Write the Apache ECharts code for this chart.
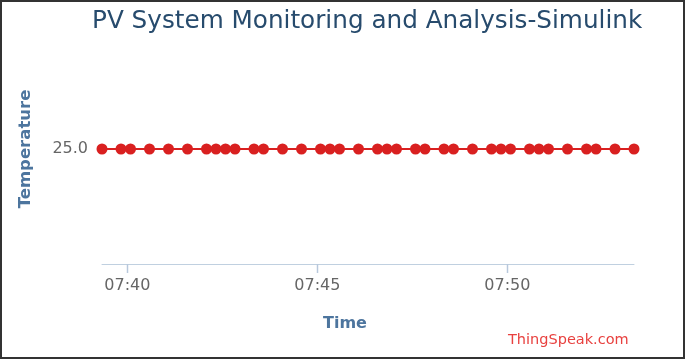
<!DOCTYPE html>
<html><head><meta charset="utf-8">
<script src="https://cdn.jsdelivr.net/npm/echarts@6/dist/echarts.min.js"></script>
<style>html,body{margin:0;padding:0;background:#fff}#c{width:685px;height:359px}</style>
</head><body><div id="c"></div>
<script>
const titleText = 'PV System Monitoring and Analysis-Simulink';
const yName = 'Temperature';
const xName = 'Time';
const credit = 'ThingSpeak.com';
const times = ['07:39:20','07:39:50','07:40:05','07:40:35','07:41:05','07:41:35','07:42:05','07:42:20','07:42:35','07:42:50','07:43:20','07:43:35','07:44:05','07:44:35','07:45:05','07:45:20','07:45:35','07:46:05','07:46:35','07:46:50','07:47:05','07:47:35','07:47:50','07:48:20','07:48:35','07:49:05','07:49:35','07:49:50','07:50:05','07:50:35','07:50:50','07:51:05','07:51:35','07:52:05','07:52:20','07:52:50','07:53:20'];
const temps = [25,25,25,25,25,25,25,25,25,25,25,25,25,25,25,25,25,25,25,25,25,25,25,25,25,25,25,25,25,25,25,25,25,25,25,25,25];
const xTicks = ['07:40:00','07:45:00','07:50:00'];
const yTicks = [25];
const yRange = [24, 26];

function toMs(s){const p=s.split(':').map(Number);return Date.UTC(2024,0,1,p[0],p[1],p[2]);}
function fmt(ms){const d=new Date(ms);return String(d.getUTCHours()).padStart(2,'0')+':'+String(d.getUTCMinutes()).padStart(2,'0');}
const data = times.map((t,i)=>[toMs(t),temps[i]]);
const xTickMs = xTicks.map(toMs);

const chart = echarts.init(document.getElementById('c'));
chart.setOption({
  animation:false,
  backgroundColor:'#fff',
  title:{text:titleText,left:87,top:4,textStyle:{fontFamily:'DejaVu Sans',fontSize:24.7,fontWeight:'normal',color:'#274b6d'}},
  grid:{left:102,right:51,top:34,bottom:95,containLabel:false},
  xAxis:{type:'value',min:'dataMin',max:'dataMax',
    axisLine:{lineStyle:{color:'#C0D0E0',width:1}},
    axisTick:{show:false},
    axisLabel:{customValues:xTickMs,formatter:v=>fmt(v),color:'#666',fontSize:16,fontFamily:'DejaVu Sans',margin:14},
    splitLine:{show:false}},
  yAxis:{type:'value',min:yRange[0],max:yRange[1],interval:1,
    name:yName,nameLocation:'middle',nameGap:68,
    nameTextStyle:{color:'#4d759e',fontSize:16.5,fontWeight:'bold',fontFamily:'DejaVu Sans'},
    axisLine:{show:false},axisTick:{show:false},splitLine:{show:false},
    axisLabel:{color:'#666',fontSize:16,fontFamily:'DejaVu Sans',margin:14,
      formatter:v=>yTicks.includes(v)?v.toFixed(1):''}},
  graphic:[
    {type:'rect',shape:{x:1,y:1,width:683,height:357},style:{fill:'none',stroke:'#333',lineWidth:2},z:100},
    {type:'text',left:323,top:316,style:{text:xName,fill:'#4d759e',font:'bold 16px DejaVu Sans'}},
    {type:'text',left:508,top:333,style:{text:credit,fill:'#e8413f',font:'14.5px DejaVu Sans'}}
  ],
  series:[
    {type:'custom',silent:true,clip:false,z:1,
      data:xTickMs.map(v=>[v,yRange[0]]),
      encode:{x:0,y:1},
      renderItem:(params,api)=>{const p=api.coord([api.value(0),api.value(1)]);const x=Math.round(p[0])+0.5;
        return {type:'line',shape:{x1:x,y1:p[1],x2:x,y2:p[1]+9},style:{stroke:'#B8C8DC',lineWidth:1.5}};}},
    {type:'line',data:data,symbol:'circle',symbolSize:11,z:3,
      lineStyle:{color:'#d92020',width:2},itemStyle:{color:'#d92020'}}]
});
</script></body></html>
